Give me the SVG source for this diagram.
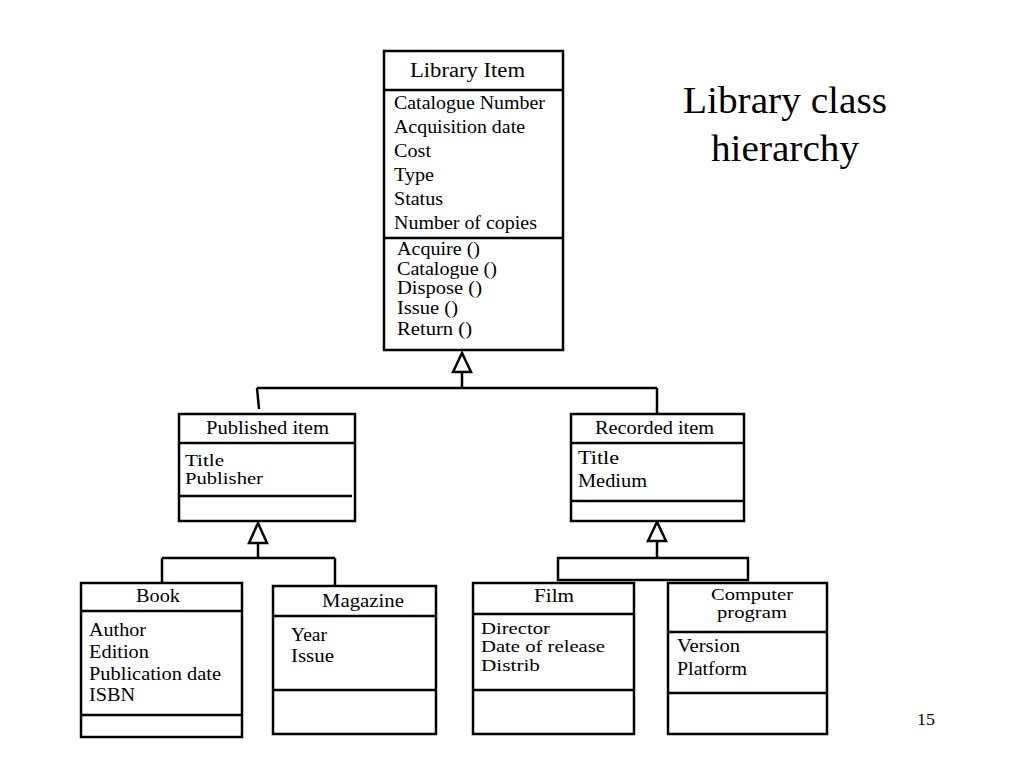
<svg xmlns="http://www.w3.org/2000/svg" width="1024" height="768" viewBox="0 0 1024 768">
<style>
text{font-family:"Liberation Serif","Times New Roman",serif;fill:#000;font-size:19.5px}
.tight{font-size:17.5px}
.box{fill:#fff;stroke:#000;stroke-width:2.5}
.ln{stroke:#000;stroke-width:2.5;fill:none}
.tri{fill:#fff;stroke:#000;stroke-width:2.5;stroke-linejoin:miter}
</style>
<rect width="1024" height="768" fill="#fff"/>
<g id="title">
<text x="683" y="113" style="font-size:38px" textLength="204" lengthAdjust="spacingAndGlyphs">Library class</text>
<text x="711" y="161" style="font-size:38px" textLength="148" lengthAdjust="spacingAndGlyphs">hierarchy</text>
</g>
<g id="connectors">
<polyline class="ln" points="462,372 462,388"/>
<polyline class="ln" points="257,388 657,388"/>
<polyline class="ln" points="257,388 259,409"/>
<polyline class="ln" points="657,388 657,415"/>
<polygon class="tri" points="462,353 453,372 471,372"/>
<polyline class="ln" points="258,543 258,558"/>
<polyline class="ln" points="162,558 335,558"/>
<polyline class="ln" points="162,558 162,583"/>
<polyline class="ln" points="335,558 335,585"/>
<polygon class="tri" points="258,523 249,543 267,543"/>
<polyline class="ln" points="657,541 657,558"/>
<rect class="box" x="558" y="558" width="190" height="22"/>
<polygon class="tri" points="657,522 648,541 666,541"/>
</g>
<g id="library-item">
<rect class="box" x="384" y="51" width="179" height="299"/>
<line class="ln" x1="384" y1="90" x2="563" y2="90"/>
<line class="ln" x1="384" y1="238" x2="563" y2="238"/>
<text x="410" y="77" style="font-size:20.5px" textLength="115" lengthAdjust="spacingAndGlyphs">Library Item</text>
<text x="394" y="109" textLength="151" lengthAdjust="spacingAndGlyphs">Catalogue Number</text>
<text x="394" y="133" textLength="131" lengthAdjust="spacingAndGlyphs">Acquisition date</text>
<text x="394" y="157" textLength="37" lengthAdjust="spacingAndGlyphs">Cost</text>
<text x="394" y="181" textLength="40" lengthAdjust="spacingAndGlyphs">Type</text>
<text x="394" y="205" textLength="49" lengthAdjust="spacingAndGlyphs">Status</text>
<text x="394" y="229" textLength="143" lengthAdjust="spacingAndGlyphs">Number of copies</text>
<text x="397" y="255" textLength="83" lengthAdjust="spacingAndGlyphs">Acquire ()</text>
<text x="397" y="275" textLength="100" lengthAdjust="spacingAndGlyphs">Catalogue ()</text>
<text x="397" y="294" textLength="85" lengthAdjust="spacingAndGlyphs">Dispose ()</text>
<text x="397" y="314" textLength="61" lengthAdjust="spacingAndGlyphs">Issue ()</text>
<text x="397" y="335" textLength="75" lengthAdjust="spacingAndGlyphs">Return ()</text>
</g>
<g id="published-item">
<rect class="box" x="179" y="414" width="176" height="107"/>
<line class="ln" x1="179" y1="443" x2="355" y2="443"/>
<line class="ln" x1="179" y1="496" x2="352" y2="496"/>
<text x="206" y="434" textLength="123" lengthAdjust="spacingAndGlyphs">Published item</text>
<text class="tight" x="185" y="466" textLength="39" lengthAdjust="spacingAndGlyphs">Title</text>
<text class="tight" x="185" y="484" textLength="78" lengthAdjust="spacingAndGlyphs">Publisher</text>
</g>
<g id="recorded-item">
<rect class="box" x="571" y="414" width="173" height="107"/>
<line class="ln" x1="571" y1="443" x2="744" y2="443"/>
<line class="ln" x1="571" y1="501" x2="744" y2="501"/>
<text x="595" y="434" textLength="119" lengthAdjust="spacingAndGlyphs">Recorded item</text>
<text x="578" y="464" textLength="41" lengthAdjust="spacingAndGlyphs">Title</text>
<text x="578" y="487" textLength="69" lengthAdjust="spacingAndGlyphs">Medium</text>
</g>
<g id="book">
<rect class="box" x="81" y="583" width="161" height="154"/>
<line class="ln" x1="81" y1="611" x2="242" y2="611"/>
<line class="ln" x1="81" y1="715" x2="242" y2="715"/>
<text x="136" y="602" textLength="44" lengthAdjust="spacingAndGlyphs">Book</text>
<text x="89" y="636" textLength="57" lengthAdjust="spacingAndGlyphs">Author</text>
<text x="89" y="658" textLength="60" lengthAdjust="spacingAndGlyphs">Edition</text>
<text x="89" y="680" textLength="132" lengthAdjust="spacingAndGlyphs">Publication date</text>
<text x="89" y="701" textLength="46" lengthAdjust="spacingAndGlyphs">ISBN</text>
</g>
<g id="magazine">
<rect class="box" x="273" y="586" width="163" height="148"/>
<line class="ln" x1="273" y1="616" x2="436" y2="616"/>
<line class="ln" x1="273" y1="690" x2="436" y2="690"/>
<text x="322" y="607" textLength="82" lengthAdjust="spacingAndGlyphs">Magazine</text>
<text x="291" y="641" textLength="36" lengthAdjust="spacingAndGlyphs">Year</text>
<text x="291" y="662" textLength="43" lengthAdjust="spacingAndGlyphs">Issue</text>
</g>
<g id="film">
<rect class="box" x="473" y="583" width="161" height="151"/>
<line class="ln" x1="473" y1="614" x2="634" y2="614"/>
<line class="ln" x1="473" y1="690" x2="634" y2="690"/>
<text x="534" y="602" textLength="40" lengthAdjust="spacingAndGlyphs">Film</text>
<text class="tight" x="481" y="634" textLength="69" lengthAdjust="spacingAndGlyphs">Director</text>
<text class="tight" x="481" y="652" textLength="124" lengthAdjust="spacingAndGlyphs">Date of release</text>
<text class="tight" x="481" y="671" textLength="59" lengthAdjust="spacingAndGlyphs">Distrib</text>
</g>
<g id="computer-program">
<rect class="box" x="668" y="583" width="159" height="151"/>
<line class="ln" x1="668" y1="632" x2="827" y2="632"/>
<line class="ln" x1="668" y1="693" x2="827" y2="693"/>
<text class="tight" x="711" y="600" textLength="82" lengthAdjust="spacingAndGlyphs">Computer</text>
<text class="tight" x="717" y="618" textLength="70" lengthAdjust="spacingAndGlyphs">program</text>
<text x="677" y="652" textLength="63" lengthAdjust="spacingAndGlyphs">Version</text>
<text x="677" y="675" textLength="70" lengthAdjust="spacingAndGlyphs">Platform</text>
</g>
<text x="917" y="725" style="font-size:17px" textLength="18" lengthAdjust="spacingAndGlyphs">15</text>
</svg>
